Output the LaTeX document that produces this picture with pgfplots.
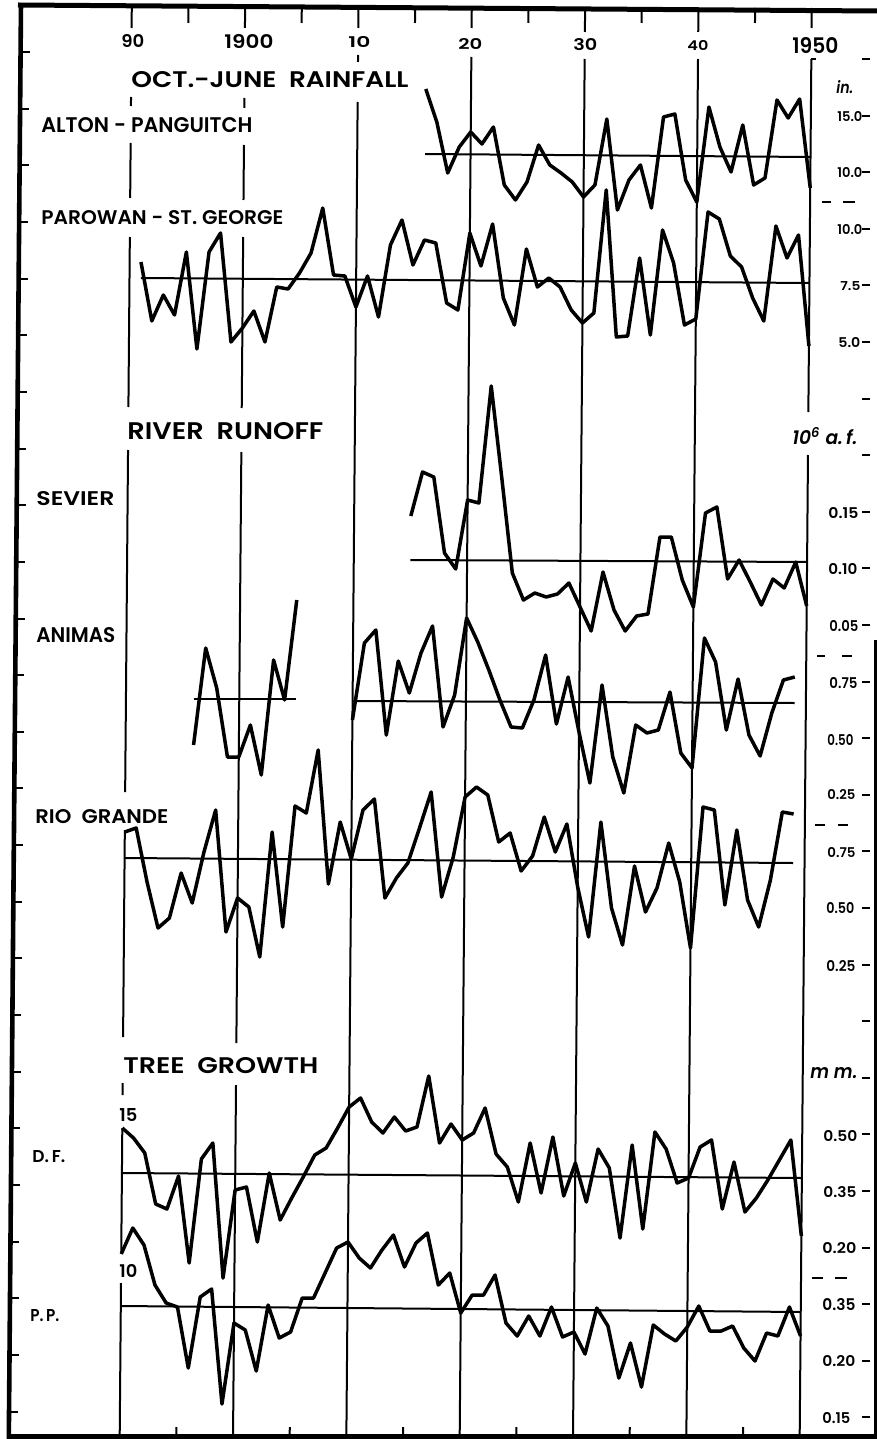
\documentclass[border=0pt]{standalone}
\usepackage{fontspec}
\setmainfont{Poppins}[BoldFont={Poppins SemiBold},BoldItalicFont={Poppins SemiBold Italic}]
\usepackage{graphicx}
\usepackage{pgfplots}
\pgfplotsset{compat=1.18}
\usepackage{pgfplotstable}

\newdimen\pxu \pxu=0.5pt

% rows are positions down the sheet (pixels); yr = year
\pgfplotstableread{
yr r
1916 89
1917 122
1918 173
1919 147
1920 132
1921 144
1922 127
1923 185
1924 200
1925 182
1926 145
1927 165
1928 173
1929 182
1930 197
1931 185
1932 119
1933 210
1934 180
1935 165
1936 208
1937 117
1938 114
1939 180
1940 202
1941 107
1942 147
1943 172
1944 125
1945 185
1946 178
1947 100
1948 118
1949 99
1950 188
}\alton

\pgfplotstableread{
yr r
1891 262
1892 321
1893 295
1894 315
1895 252
1896 349
1897 252
1898 233
1899 342
1900 328
1901 311
1902 342
1903 287
1904 289
1905 273
1906 253
1907 208
1908 275
1909 276
1910 307
1911 276
1912 317
1913 245
1914 220
1915 265
1916 240
1917 243
1918 303
1919 310
1920 233
1921 266
1922 224
1923 298
1924 325
1925 249
1926 287
1927 278
1928 287
1929 310
1930 323
1931 313
1932 190
1933 337
1934 336
1935 258
1936 335
1937 230
1938 263
1939 325
1940 319
1941 212
1942 219
1943 256
1944 267
1945 298
1946 321
1947 226
1948 258
1949 235
1950 346
}\parowan

\pgfplotstableread{
yr r
1915 516
1916 472
1917 477
1918 553
1919 569
1920 500
1921 503
1922 386
1923 478
1924 573
1925 600
1926 593
1927 597
1928 594
1929 583
1930 607
1931 631
1932 572
1933 610
1934 631
1935 616
1936 614
1937 537
1938 537
1939 580
1940 607
1941 513
1942 507
1943 579
1944 560
1945 582
1946 605
1947 579
1948 588
1949 562
1950 606
}\sevier

\pgfplotstableread{
yr r
1896 745
1897 648
1898 688
1899 757
1900 757
1901 725
1902 775
1903 660
1904 700
1905 600
}\animasA

\pgfplotstableread{
yr r
1910 720
1911 643
1912 630
1913 735
1914 661
1915 693
1916 653
1917 626
1918 727
1919 695
1920 618
1921 642
1922 670
1923 700
1924 727
1925 728
1926 700
1927 655
1928 724
1929 677
1930 732
1931 783
1932 685
1933 757
1934 793
1935 725
1936 733
1937 730
1938 692
1939 753
1940 768
1941 638
1942 662
1943 730
1944 679
1945 735
1946 756
1947 713
1948 680
1949 677
}\animasB

\pgfplotstableread{
yr r
1890 832
1891 828
1892 882
1893 928
1894 918
1895 873
1896 903
1897 852
1898 810
1899 932
1900 898
1901 907
1902 957
1903 832
1904 927
1905 806
1906 813
1907 750
1908 884
1909 822
1910 859
1911 810
1912 799
1913 898
1914 878
1915 863
1916 828
1917 792
1918 897
1919 857
1920 797
1921 787
1922 795
1923 842
1924 833
1925 871
1926 856
1927 817
1928 852
1929 824
1930 887
1931 937
1932 822
1933 908
1934 945
1935 866
1936 912
1937 888
1938 843
1939 882
1940 948
1941 807
1942 810
1943 905
1944 830
1945 900
1946 927
1947 880
1948 812
1949 814
}\rio

\pgfplotstableread{
yr r
1890 1128
1891 1138
1892 1153
1893 1204
1894 1209
1895 1176
1896 1263
1897 1159
1898 1143
1899 1278
1900 1190
1901 1187
1902 1242
1903 1173
1904 1220
1905 1198
1906 1177
1907 1155
1908 1148
1909 1128
1910 1107
1911 1098
1912 1122
1913 1133
1914 1117
1915 1131
1916 1127
1917 1076
1918 1143
1919 1124
1920 1140
1921 1133
1922 1108
1923 1154
1924 1167
1925 1202
1926 1143
1927 1193
1928 1137
1929 1196
1930 1163
1931 1202
1932 1149
1933 1168
1934 1238
1935 1145
1936 1229
1937 1132
1938 1149
1939 1183
1940 1178
1941 1147
1942 1140
1943 1209
1944 1162
1945 1212
1946 1198
1947 1180
1948 1160
1949 1140
1950 1236
}\df

\pgfplotstableread{
yr r
1890 1254
1891 1228
1892 1245
1893 1285
1894 1303
1895 1307
1896 1368
1897 1297
1898 1289
1899 1404
1900 1323
1901 1330
1902 1371
1903 1305
1904 1338
1905 1332
1906 1298
1907 1298
1908 1273
1909 1248
1910 1242
1911 1258
1912 1268
1913 1250
1914 1235
1915 1267
1916 1243
1917 1233
1918 1285
1919 1273
1920 1313
1921 1295
1922 1295
1923 1275
1924 1323
1925 1336
1926 1316
1927 1336
1928 1307
1929 1337
1930 1332
1931 1354
1932 1308
1933 1326
1934 1378
1935 1343
1936 1387
1937 1325
1938 1334
1939 1341
1940 1327
1941 1306
1942 1331
1943 1331
1944 1326
1945 1348
1946 1361
1947 1333
1948 1336
1949 1307
1950 1336
}\pp

% mean lines (start and end)
\pgfplotstableread{
yr r
1916 154
1950 157
}\altonM
\pgfplotstableread{
yr r
1891 278
1950 283
}\parowanM
\pgfplotstableread{
yr r
1915 560
1950 562
}\sevierM
\pgfplotstableread{
yr r
1896 699
1905 699
}\animasAM
\pgfplotstableread{
yr r
1910 701
1949 703
}\animasBM
\pgfplotstableread{
yr r
1890 858
1949 863
}\rioM
\pgfplotstableread{
yr r
1890 1173
1950 1178
}\dfM
\pgfplotstableread{
yr r
1890 1306
1950 1312
}\ppM

\newcommand{\XY}[2]{(axis cs:{131.85+11.333*(#1-1890)-0.00846*(#2)},{#2})}
\newcommand{\seg}[3]{\draw[line width=1pt] \XY{#1}{#2} -- \XY{#1}{#3};}
\newcommand{\lab}[5]{\node[anchor=south west,inner sep=0pt] at (axis cs:#1,#2) {\resizebox{#3\pxu}{#4\pxu}{\bfseries #5}};}

\begin{document}
\begin{tikzpicture}
\begin{axis}[scale only axis, width=438.5pt, height=719.5pt,
  xmin=0, xmax=877, ymin=0, ymax=1439, y dir=reverse,
  hide axis, clip=false,
  dataline/.style={black, solid, line width=1.75pt, line join=round, mark=none},
  mean/.style={black, solid, line width=1pt, mark=none}]

% frame
\draw[line width=2.5pt] (axis cs:18,5) -- (axis cs:877,11);
\draw[line width=2.3pt] (axis cs:21,3) -- (axis cs:8.8,1439);
\draw[line width=2.5pt] (axis cs:7,1436.5) -- (axis cs:877,1436.5);
\draw[line width=2pt] (axis cs:875.5,640) -- (axis cs:875.5,1439);

% left ticks
\pgfplotsinvokeforeach{0,...,24}{
  \draw[line width=1pt] (axis cs:{22-0.00846*(52+56.65*#1)},{52+56.65*#1}) -- (axis cs:{30-0.00846*(52+56.65*#1)},{52+56.65*#1});
}
% right ticks
\pgfplotsinvokeforeach{0,...,24}{
  \draw[line width=1pt] (axis cs:862,{59+56.6*#1}) -- (axis cs:870,{59+56.6*#1});
}

% decade lines
\seg{1890}{8}{28}\seg{1890}{97}{106}\seg{1890}{143}{198}\seg{1890}{237}{407}
\seg{1890}{450}{792}\seg{1890}{830}{1037}\seg{1890}{1083}{1095}\seg{1890}{1128}{1253}\seg{1890}{1283}{1437}
\seg{1900}{8}{28}\seg{1900}{98}{108}\seg{1900}{145}{200}\seg{1900}{237}{408}\seg{1900}{452}{1043}\seg{1900}{1085}{1437}
\seg{1910}{8}{28}\seg{1910}{55}{62}\seg{1910}{102}{1437}
\seg{1920}{8}{28}\seg{1920}{57}{1437}
\seg{1930}{8}{32}\seg{1930}{59}{1437}
\seg{1940}{8}{32}\seg{1940}{59}{1437}
\seg{1950}{8}{28}\seg{1950}{59}{412}\seg{1950}{455}{1437}
\draw[line width=1pt] \XY{1950}{59} -- ++(axis direction cs:5,0);
% half-decade ticks
\seg{1895}{8}{23}\seg{1905}{8}{23}\seg{1915}{8}{23}\seg{1925}{8}{23}\seg{1935}{8}{23}\seg{1945}{8}{23}
\seg{1895}{1427}{1437}\seg{1905}{1427}{1437}\seg{1915}{1427}{1437}\seg{1925}{1427}{1437}\seg{1935}{1427}{1437}\seg{1945}{1427}{1437}

% data
\addplot[dataline] table[x expr={131.85+11.333*(\thisrow{yr}-1890)-0.00846*\thisrow{r}}, y=r] {\alton};
\addplot[dataline] table[x expr={131.85+11.333*(\thisrow{yr}-1890)-0.00846*\thisrow{r}}, y=r] {\parowan};
\addplot[dataline] table[x expr={131.85+11.333*(\thisrow{yr}-1890)-0.00846*\thisrow{r}}, y=r] {\sevier};
\addplot[dataline] table[x expr={131.85+11.333*(\thisrow{yr}-1890)-0.00846*\thisrow{r}}, y=r] {\animasA};
\addplot[dataline] table[x expr={131.85+11.333*(\thisrow{yr}-1890)-0.00846*\thisrow{r}}, y=r] {\animasB};
\addplot[dataline] table[x expr={131.85+11.333*(\thisrow{yr}-1890)-0.00846*\thisrow{r}}, y=r] {\rio};
\addplot[dataline] table[x expr={131.85+11.333*(\thisrow{yr}-1890)-0.00846*\thisrow{r}}, y=r] {\df};
\addplot[dataline] table[x expr={131.85+11.333*(\thisrow{yr}-1890)-0.00846*\thisrow{r}}, y=r] {\pp};
% means
\addplot[mean] table[x expr={131.85+11.333*(\thisrow{yr}-1890)-0.00846*\thisrow{r}}, y=r] {\altonM};
\addplot[mean] table[x expr={131.85+11.333*(\thisrow{yr}-1890)-0.00846*\thisrow{r}}, y=r] {\parowanM};
\addplot[mean] table[x expr={131.85+11.333*(\thisrow{yr}-1890)-0.00846*\thisrow{r}}, y=r] {\sevierM};
\addplot[mean] table[x expr={131.85+11.333*(\thisrow{yr}-1890)-0.00846*\thisrow{r}}, y=r] {\animasAM};
\addplot[mean] table[x expr={131.85+11.333*(\thisrow{yr}-1890)-0.00846*\thisrow{r}}, y=r] {\animasBM};
\addplot[mean] table[x expr={131.85+11.333*(\thisrow{yr}-1890)-0.00846*\thisrow{r}}, y=r] {\rioM};
\addplot[mean] table[x expr={131.85+11.333*(\thisrow{yr}-1890)-0.00846*\thisrow{r}}, y=r] {\dfM};
\addplot[mean] table[x expr={131.85+11.333*(\thisrow{yr}-1890)-0.00846*\thisrow{r}}, y=r] {\ppM};

% top year labels
\lab{121}{48}{23}{13}{90}
\lab{224}{49}{49}{14}{1900}
\lab{348}{48}{22}{11}{10}
\lab{458}{50}{24}{11}{20}
\lab{573}{51}{24}{12}{30}
\lab{687}{51}{21}{10}{40}
\lab{792}{54}{46}{16}{1950}

% headings and names
\lab{131}{88}{277}{16}{OCT.-JUNE\ \ RAINFALL}
\lab{41}{133}{211}{15}{ALTON - PANGUITCH}
\lab{41}{225}{242}{14}{PAROWAN - ST. GEORGE}
\lab{127}{440}{196}{17}{RIVER\ \ RUNOFF}
\lab{36}{506}{78}{14}{SEVIER}
\lab{36}{643}{79}{15}{ANIMAS}
\lab{35}{824}{133}{14}{RIO\ \ GRANDE}
\lab{123}{1074}{195}{16}{TREE\ \ GROWTH}
\lab{119}{1122}{18}{13}{15}
\lab{119}{1278}{18}{13}{10}
\lab{32}{1163}{33}{12}{D.\,F.}
\lab{30}{1322}{29}{12}{P.\,P.}

% right scale labels
\lab{836}{94}{17}{13}{\itshape in.}
\lab{837}{122}{25}{10}{15.0}
\lab{837}{178}{25}{10}{10.0}
\lab{837}{235}{25}{10}{10.0}
\lab{840}{291}{20}{9}{7.5}
\lab{838}{348}{22}{10}{5.0}
\lab{792}{445}{65}{17}{\itshape 10\textsuperscript{6} a.\,f.}
\lab{828}{519}{30}{11}{0.15}
\lab{828}{575}{29}{11}{0.10}
\lab{829}{632}{29}{11}{0.05}
\lab{829}{689}{28}{11}{0.75}
\lab{827}{746}{26}{11}{0.50}
\lab{827}{800}{28}{10}{0.25}
\lab{827}{858}{28}{10}{0.75}
\lab{826}{914}{28}{11}{0.50}
\lab{826}{972}{29}{11}{0.25}
\lab{810}{1079}{47}{11}{\itshape m m.}
\lab{823}{1142}{34}{11}{0.50}
\lab{823}{1198}{33}{11}{0.35}
\lab{822}{1254}{34}{11}{0.20}
\lab{822}{1311}{33}{12}{0.35}
\lab{822}{1367}{33}{11}{0.20}
\lab{822}{1424}{28}{11}{0.15}

% separators
\draw[line width=1pt] (axis cs:822,202) -- (axis cs:831,202) (axis cs:843,202) -- (axis cs:855,202);
\draw[line width=1pt] (axis cs:817,656) -- (axis cs:825,656) (axis cs:842,656) -- (axis cs:852,656);
\draw[line width=1pt] (axis cs:815,825) -- (axis cs:825,825) (axis cs:838,825) -- (axis cs:848,825);
\draw[line width=1pt] (axis cs:812,1278) -- (axis cs:823,1278) (axis cs:835,1278) -- (axis cs:847,1278);
\end{axis}
\pgfresetboundingbox
\path (current axis.south west) rectangle (current axis.north east);
\end{tikzpicture}
\end{document}
